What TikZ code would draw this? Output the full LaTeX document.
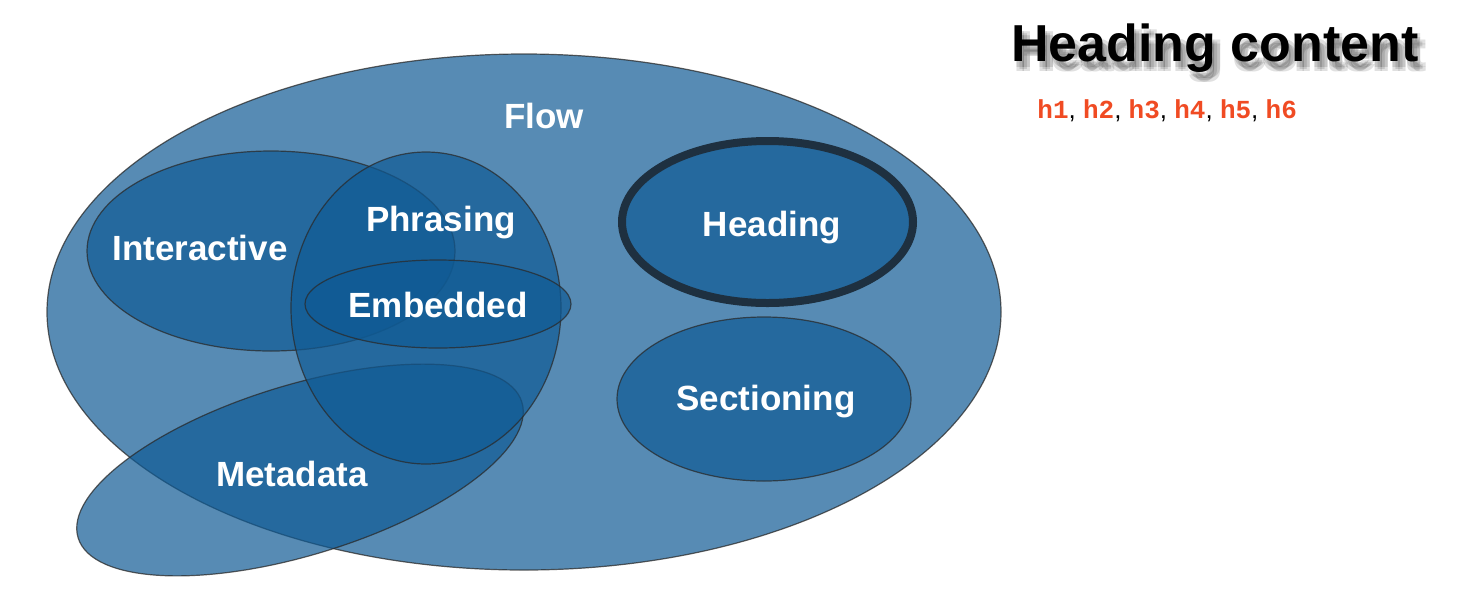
\documentclass[tikz,border=0pt]{standalone}
\usepackage{fontspec}
\setmainfont{Liberation Sans}
\setmonofont{Liberation Mono}

\definecolor{setblue}{HTML}{0F5A94}
\definecolor{edgegray}{HTML}{2A2A2A}
\definecolor{headedge}{HTML}{1E3040}
\definecolor{codered}{HTML}{F04B23}

\newcommand*{\hcode}[1]{\textcolor{codered}{\ttfamily\bfseries #1}}

\begin{document}
\begin{tikzpicture}
[
	x=0.5pt,
	y=-0.5pt,
	set/.style={fill=setblue,fill opacity=0.7,draw=edgegray,draw opacity=0.75,line width=0.6pt},
	setlabel/.style={text=white,inner sep=0pt,font=\fontsize{17.5}{20}\selectfont\bfseries},
	titletext/.style={inner sep=0pt,font=\fontsize{26}{30}\selectfont\bfseries}
]
	\useasboundingbox (0,0) rectangle (1478,612);

	% content categories
	\draw[set] (524,312) ellipse [x radius=477, y radius=258];
	\draw[set,rotate around={17:(300,470)}] (300,470) ellipse [x radius=232, y radius=85];
	\draw[set] (271,251) ellipse [x radius=184, y radius=100];
	\draw[set] (426,308) ellipse [x radius=135, y radius=156];
	\draw[set] (438,304) ellipse [x radius=133, y radius=44];
	\draw[set,draw=headedge,draw opacity=1,line width=4pt] (767.5,222) ellipse [x radius=145.5, y radius=81];
	\draw[set] (764,399) ellipse [x radius=147, y radius=82];

	% labels
	\node[setlabel] (flow) at (544,116) {Flow};
	\node[setlabel] (phrasing) at (441,223) {Phrasing};
	\node[setlabel] (interactive) at (200,248) {Interactive};
	\node[setlabel] (embedded) at (438,305) {Embedded};
	\node[setlabel] (heading) at (772,228) {Heading};
	\node[setlabel] (sectioning) at (766,402) {Sectioning};
	\node[setlabel] (metadata) at (292,474) {Metadata};

	% title with soft shadow
	\foreach \dx/\dy [count=\i] in {0/0,-3/-2,3/2,-3/2,3/-2}
		\node[titletext,text=black,opacity=0.12] (shadow\i) at (1220+\dx,56+\dy) {Heading content};
	\node[titletext] (title) at (1215,48) {Heading content};

	\node[anchor=west,inner sep=0pt,font=\fontsize{13}{15}\selectfont] (elements) at (1037,111)
		{\hcode{h1}, \hcode{h2}, \hcode{h3}, \hcode{h4}, \hcode{h5}, \hcode{h6}};

\end{tikzpicture}
\end{document}
